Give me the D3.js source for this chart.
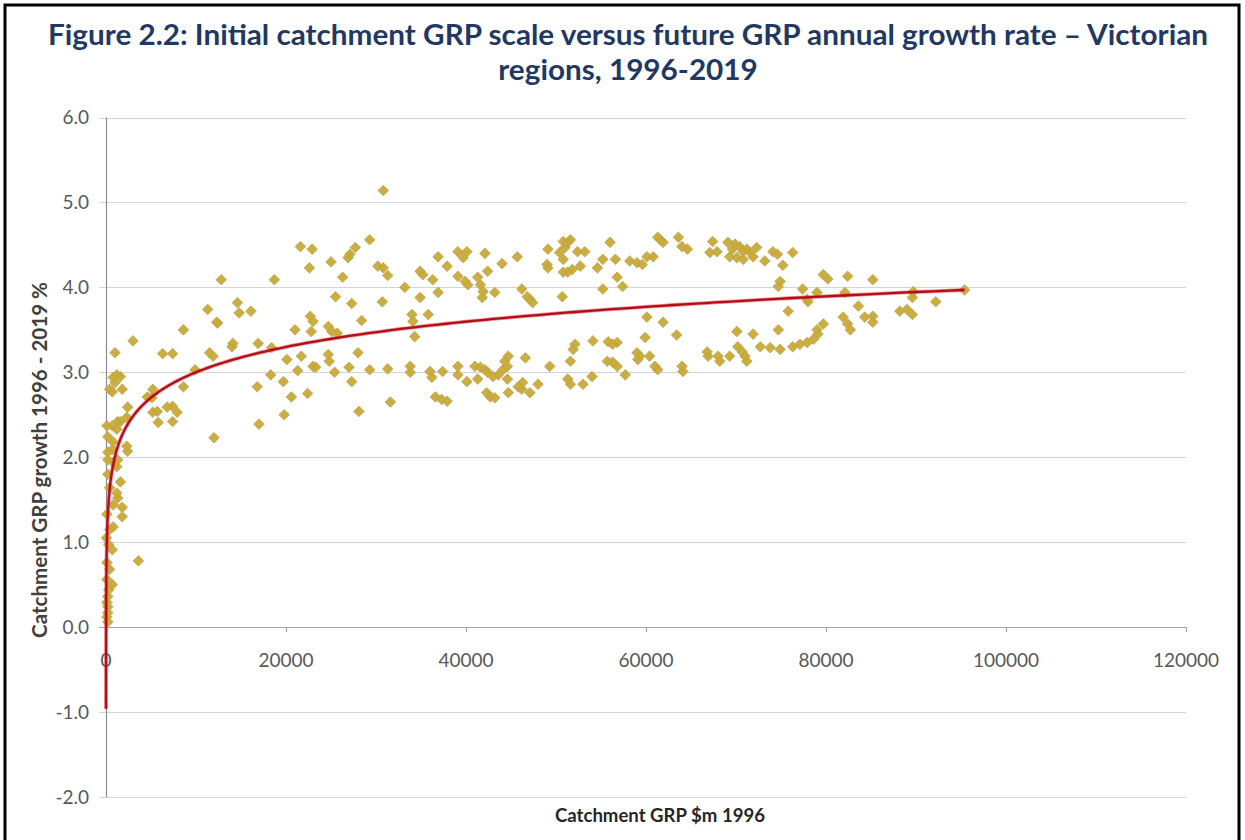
<!DOCTYPE html>
<html>
<head>
<meta charset="utf-8">
<script src="https://cdn.jsdelivr.net/npm/d3@7"></script>
<style>
  html, body { margin: 0; padding: 0; background: #ffffff; }
  svg { display: block; font-family: Lato, "Open Sans", "Liberation Sans", sans-serif; }
</style>
</head>
<body>
<svg id="chart" width="1245" height="840"></svg>
<script>
// Title, axis titles and ticks
const titleLines = [
  "Figure 2.2:  Initial catchment GRP scale versus future GRP annual growth rate \u2013 Victorian",
  "regions, 1996-2019"
];
const yAxisTitle = "Catchment GRP growth 1996 - 2019 %";
const xAxisTitle = "Catchment GRP $m 1996";
const yTicks = [-2, -1, 0, 1, 2, 3, 4, 5, 6];
const xTicks = [0, 20000, 40000, 60000, 80000, 100000, 120000];

// Logarithmic trend line: growth = slope * ln(GRP) + intercept
const trendSlope = 0.43;
const trendIntercept = -0.96;
const trendRange = [1, 95400];

// Regions: [catchment GRP $m 1996, annual GRP growth 1996-2019 %]
const regions = [
  [1000, 3.23], [3000, 3.37], [400, 2.80], [1000, 2.88], [1600, 2.95], [1200, 2.97],
  [800, 2.94], [700, 2.77], [1800, 2.80], [700, 2.37], [1300, 2.42], [2400, 2.59],
  [2300, 2.47], [100, 2.37], [1200, 2.33], [1600, 2.42], [200, 2.24], [800, 2.18],
  [700, 2.09], [2400, 2.07], [2300, 2.13], [200, 2.06], [200, 1.97], [800, 1.94],
  [1300, 1.97], [1200, 1.89], [1600, 1.71], [1200, 1.58], [1300, 1.52], [800, 1.44],
  [1800, 1.41], [1800, 1.30], [100, 1.33], [800, 1.18], [50, 1.05], [700, 0.91],
  [3600, 0.78], [100, 0.76], [400, 0.68], [100, 0.56], [700, 0.50], [200, 0.36],
  [200, 0.24], [200, 0.17], [200, 0.06], [100, 0.29], [300, 0.44], [100, 0.12],
  [300, 0.97], [400, 1.15], [200, 1.80], [400, 1.64],
  [4600, 2.71], [5200, 2.80], [5100, 2.70], [5700, 2.54], [5800, 2.41], [5200, 2.53],
  [6800, 2.59], [7400, 2.60], [7900, 2.53], [7400, 2.42], [6300, 3.22], [7400, 3.22],
  [8600, 3.50], [8600, 2.83], [9900, 3.03], [11300, 3.74], [12300, 3.59], [12400, 3.58],
  [11500, 3.23], [11900, 3.19], [12000, 2.23], [12800, 4.09], [14000, 3.30], [14100, 3.34],
  [14600, 3.82], [14800, 3.70], [16100, 3.72], [16800, 2.83], [16900, 3.34], [17000, 2.39],
  [18300, 2.97], [18700, 4.09], [18400, 3.29], [19800, 2.50], [20100, 3.15], [19700, 2.89],
  [20600, 2.71], [21000, 3.50], [21600, 4.48], [22900, 4.45], [22600, 4.23], [22700, 3.66],
  [23000, 3.60], [22800, 3.48], [21700, 3.19], [21300, 3.02], [22400, 2.75], [23000, 3.07],
  [23300, 3.06], [25000, 4.30], [26300, 4.12], [25500, 3.89], [27300, 3.81], [26900, 4.35],
  [27100, 4.39], [27700, 4.47], [29300, 4.56], [24700, 3.54], [25100, 3.48], [25700, 3.46],
  [24700, 3.21], [24800, 3.13], [25400, 3.00], [27000, 3.06], [27300, 2.89], [28000, 3.23],
  [28100, 2.54], [28400, 3.61], [29300, 3.03], [30200, 4.25], [30800, 4.23], [31300, 4.14],
  [30700, 3.83], [30800, 5.14], [31300, 3.04], [31600, 2.65],
  [33200, 4.00], [34900, 4.19], [35200, 4.15], [36300, 4.09], [36900, 4.36], [37900, 4.25],
  [36900, 3.94], [34900, 3.88], [34000, 3.68], [34100, 3.60], [35800, 3.68], [34300, 3.42],
  [33800, 3.07], [33800, 3.00], [36000, 3.01], [36200, 2.94], [37400, 3.01], [39100, 3.07],
  [39100, 2.97], [36600, 2.71], [37300, 2.68], [37900, 2.66], [40100, 2.89], [39100, 4.42],
  [39700, 4.35], [40100, 4.42], [39100, 4.13], [39900, 4.07], [40200, 4.03], [41300, 4.12],
  [41600, 4.03], [42100, 4.40], [42400, 4.19], [41800, 3.88], [41900, 3.95], [43200, 3.94],
  [41000, 3.07], [41600, 3.06], [42100, 3.03], [41300, 2.92], [42400, 3.00], [43000, 2.95],
  [43600, 2.97], [42300, 2.76], [42700, 2.71], [43200, 2.70], [44000, 4.28], [44300, 3.13],
  [44600, 3.07], [44100, 3.03], [44700, 3.19], [44600, 2.92], [44700, 2.76], [45700, 4.36],
  [46200, 3.98], [46800, 3.89], [47100, 3.86], [47400, 3.82], [45800, 2.83], [46200, 2.80],
  [46300, 2.88], [46600, 3.17], [47100, 2.76], [48000, 2.86], [49100, 4.45], [49000, 4.27],
  [49100, 4.23], [49300, 3.07], [50700, 3.89], [50800, 4.54], [51300, 4.53], [51600, 4.56],
  [50400, 4.41], [50800, 4.33], [50800, 4.18], [51300, 4.18], [51800, 4.21], [51000, 4.47],
  [52400, 4.42], [52700, 4.25], [51900, 3.27], [52100, 3.33], [51600, 3.13], [51300, 2.92],
  [51600, 2.86], [53000, 2.86], [54000, 2.95], [54100, 3.37], [54600, 4.23], [55200, 4.33],
  [56000, 4.53], [55200, 3.98], [55800, 3.36], [56300, 3.33], [56800, 3.35], [56600, 4.33],
  [56800, 4.12], [57400, 4.01], [55700, 3.13], [56300, 3.12], [56800, 3.07], [57700, 2.97],
  [58200, 4.31], [59000, 4.29], [59600, 4.27], [59000, 3.23], [59100, 3.15], [59300, 3.19],
  [60100, 3.65], [59900, 3.41], [53200, 4.42], [60400, 3.19], [61000, 3.07], [61300, 3.03],
  [60800, 4.36], [61600, 4.56], [61300, 4.59], [61900, 4.53], [60100, 4.36], [61900, 3.59],
  [63600, 4.59], [64000, 4.48], [64600, 4.45], [63400, 3.44], [64000, 3.07], [64100, 3.01],
  [67400, 4.54], [67100, 4.41], [67900, 4.42], [69100, 4.53], [69600, 4.45], [69900, 4.51],
  [70400, 4.48], [70800, 4.42], [71200, 4.45], [71600, 4.41], [71900, 4.36], [72300, 4.47],
  [69300, 4.36], [70100, 4.35], [70800, 4.33], [73200, 4.31], [74100, 4.42], [74600, 4.39],
  [75200, 4.26], [76300, 4.41], [74900, 4.07], [74700, 4.01], [79700, 4.15], [80200, 4.10],
  [82400, 4.13], [85200, 4.09], [77400, 3.98], [79000, 3.94], [78000, 3.83], [82100, 3.94],
  [89700, 3.95], [95400, 3.97], [66800, 3.24], [66900, 3.19], [68000, 3.19], [68200, 3.13],
  [69300, 3.19], [70100, 3.48], [70200, 3.30], [70700, 3.24], [71000, 3.19], [71200, 3.13],
  [71900, 3.45], [72700, 3.30], [73800, 3.29], [74900, 3.27], [74700, 3.50], [75800, 3.72],
  [76300, 3.30], [77100, 3.33], [77900, 3.35], [78600, 3.39], [79100, 3.45], [79000, 3.50],
  [79700, 3.57], [77900, 3.86], [81900, 3.65], [82400, 3.57], [82700, 3.50], [83600, 3.78],
  [84300, 3.65], [85200, 3.66], [85200, 3.59], [88200, 3.72], [89000, 3.74], [89600, 3.68],
  [89600, 3.88], [92200, 3.83]
];

const svg = d3.select("#chart");

// Page frame
svg.append("rect")
  .attr("x", 5).attr("y", 5)
  .attr("width", 1234).attr("height", 860)
  .attr("fill", "none").attr("stroke", "#000").attr("stroke-width", 3);

// Fit a text element to a target width by adjusting its font size
function fitWidth(sel, target) {
  const w = sel.node().getComputedTextLength();
  const fs = parseFloat(sel.attr("font-size"));
  sel.attr("font-size", (fs * target / w).toFixed(2));
}

// Title: tall, slightly condensed lettering
const title = svg.append("g").attr("fill", "#1F3864").attr("font-weight", 700)
  .attr("text-anchor", "middle");
const t1 = title.append("text").attr("x", 628).attr("y", 45).attr("font-size", 28).text(titleLines[0]);
const w1 = t1.node().getComputedTextLength();
const squeeze = 1160 / w1;
t1.attr("textLength", 1160).attr("lengthAdjust", "spacingAndGlyphs");
const t2 = title.append("text").attr("x", 628).attr("y", 80).attr("font-size", 28).text(titleLines[1]);
t2.attr("textLength", t2.node().getComputedTextLength() * squeeze).attr("lengthAdjust", "spacingAndGlyphs");

// Scales
const x = d3.scaleLinear().domain([0, 120000]).range([106, 1186]);
const y = d3.scaleLinear().domain([-2, 6]).range([797, 117.5]);

// Horizontal gridlines with left tick stubs
svg.append("g").selectAll("line").data(yTicks).join("line")
  .attr("x1", 99).attr("x2", x(120000))
  .attr("y1", d => Math.round(y(d)) + 0.5).attr("y2", d => Math.round(y(d)) + 0.5)
  .attr("stroke", d => d === 0 ? "#A6A6A6" : "#D4D4D4").attr("stroke-width", 1.2);

// Y axis line
svg.append("line")
  .attr("x1", x(0) + 0.5).attr("x2", x(0) + 0.5)
  .attr("y1", y(6)).attr("y2", y(-2))
  .attr("stroke", "#8C8C8C").attr("stroke-width", 1.2);

// Y tick labels (plain hyphen for negatives)
const fmtY = v => (v < 0 ? "-" : "") + Math.abs(v).toFixed(1);
svg.append("g").selectAll("text").data(yTicks).join("text")
  .attr("x", 89).attr("y", d => y(d) + 6.5)
  .attr("text-anchor", "end").attr("font-size", 19).attr("fill", "#595959")
  .text(fmtY);

// X axis ticks along the zero line
svg.append("g").selectAll("line").data(xTicks).join("line")
  .attr("x1", d => Math.round(x(d)) + 0.5).attr("x2", d => Math.round(x(d)) + 0.5)
  .attr("y1", y(0)).attr("y2", y(0) + 5)
  .attr("stroke", "#A6A6A6").attr("stroke-width", 1.2);

svg.append("g").selectAll("text").data(xTicks).join("text")
  .attr("x", d => x(d)).attr("y", y(0) + 40)
  .attr("text-anchor", "middle").attr("font-size", 19).attr("fill", "#595959")
  .text(d => d);

// Axis titles
const yt = svg.append("text")
  .attr("transform", "translate(47,460) rotate(-90)")
  .attr("text-anchor", "middle").attr("font-size", 19).attr("font-weight", 700)
  .attr("fill", "#404040").text(yAxisTitle);
fitWidth(yt, 356);

const xt = svg.append("text")
  .attr("x", 660).attr("y", 822)
  .attr("text-anchor", "middle").attr("font-size", 18).attr("font-weight", 700)
  .attr("fill", "#262626").text(xAxisTitle);
fitWidth(xt, 210);

// Scatter points as diamonds
const diamond = d3.symbol().type(d3.symbolSquare).size(56)();
svg.append("g").selectAll("path").data(regions).join("path")
  .attr("d", diamond)
  .attr("transform", d => `translate(${x(d[0])},${y(d[1])}) rotate(45)`)
  .attr("fill", "#C9A933").attr("stroke", "#BBA95E").attr("stroke-width", 0.8)
  .attr("fill-opacity", 0.95);

// Trend line
const lnLo = Math.log(trendRange[0]), lnHi = Math.log(trendRange[1]);
const trendPts = d3.range(0, 301).map(i => {
  const v = Math.exp(lnLo + (lnHi - lnLo) * i / 300);
  return [v, trendSlope * Math.log(v) + trendIntercept];
});
const line = d3.line().x(d => x(d[0])).y(d => y(d[1])).curve(d3.curveMonotoneX);
svg.append("path").datum(trendPts)
  .attr("d", line).attr("fill", "none")
  .attr("stroke", "#EE3B3B").attr("stroke-width", 3.8).attr("stroke-opacity", 0.55);
svg.append("path").datum(trendPts)
  .attr("d", line).attr("fill", "none")
  .attr("stroke", "#B0101A").attr("stroke-width", 2.3);
</script>
</body>
</html>
